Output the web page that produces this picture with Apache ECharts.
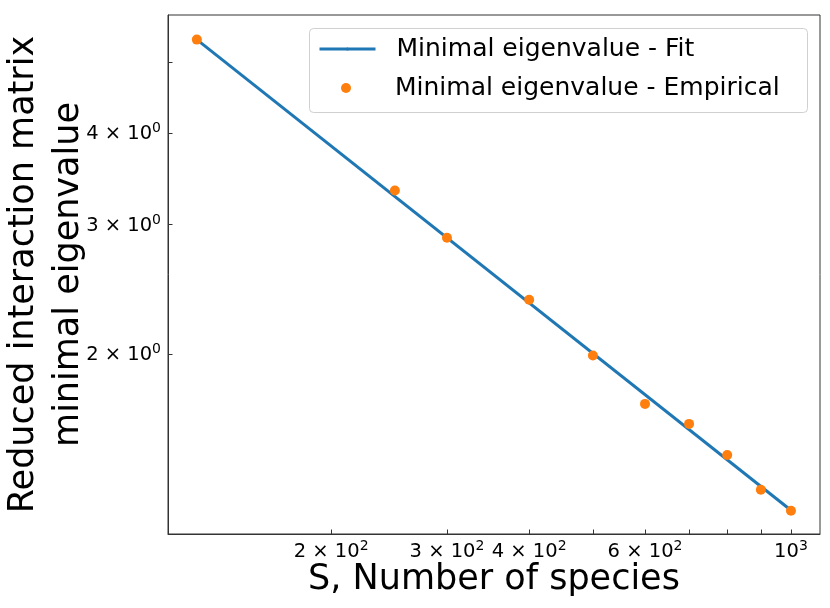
<!DOCTYPE html>
<html>
<head>
<meta charset="utf-8">
<script src="https://cdn.jsdelivr.net/npm/echarts@6/dist/echarts.min.js"></script>
<style>html,body{margin:0;padding:0;background:#fff;}#c{width:830px;height:608px;}</style>
</head>
<body>
<div id="c"></div>
<script>
// ---- data ----
const speciesCounts = [125, 250, 300, 400, 500, 600, 700, 800, 900, 1000];
const empiricalEigen = [5.36, 3.34, 2.88, 2.37, 1.99, 1.71, 1.606, 1.457, 1.306, 1.223];
const fitS = [125, 1000];
const fitEigen = [5.36, 1.225];
const xTickValues = [200, 300, 400, 500, 600, 700, 800, 900, 1000];
const xLabelValues = [200, 300, 400, 600, 1000];
const yTickValues = [2, 3, 4, 5];
const yLabelValues = [2, 3, 4];
const seriesNames = ['Minimal eigenvalue - Fit', 'Minimal eigenvalue - Empirical'];
const xTitle = 'S, Number of species';
const yTitle = 'Reduced interaction matrix\nminimal eigenvalue';

const FONT = 'DejaVu Sans';
const chart = echarts.init(document.getElementById('c'), null, {renderer: 'canvas'});

const richTick = {
  m: {fontSize: 19.5, fontFamily: FONT, color: '#000', verticalAlign: 'bottom', lineHeight: 23},
  s: {fontSize: 14, fontFamily: FONT, color: '#000', verticalAlign: 'top', lineHeight: 14}
};

function xFmt(v) {
  if (Math.abs(v - 1000) < 1e-6) return '{m|10}{s|3}';
  return '{m|' + Math.round(v / 100) + ' × 10}{s|2}';
}
function yFmt(v) {
  return '{m|' + Math.round(v) + ' × 10}{s|0}';
}
const legendText = {fontSize: 25, fontFamily: FONT, color: '#000', lineHeight: 30};

const option = {
  animation: false,
  backgroundColor: '#fff',
  grid: {left: 168, top: 15, right: 10, bottom: 74, containLabel: false, outerBoundsMode: 'none',
         show: true, borderColor: '#333', borderWidth: 1, backgroundColor: 'transparent'},
  xAxis: {
    type: 'log', logBase: 10, min: 113, max: 1107,
    name: xTitle, nameLocation: 'middle', nameGap: 25, nameMoveOverlap: false,
    nameTextStyle: {fontSize: 35, fontFamily: FONT, color: '#000', lineHeight: 42},
    axisLine: {show: true, lineStyle: {color: '#333', width: 1}},
    axisTick: {show: true, inside: true, length: 4.5, lineStyle: {color: '#333'}, customValues: xTickValues},
    axisLabel: {show: true, margin: 5, customValues: xLabelValues, formatter: xFmt, rich: richTick},
    splitLine: {show: false}, minorTick: {show: false}, minorSplitLine: {show: false}
  },
  yAxis: {
    type: 'log', logBase: 10, min: 1.137, max: 5.79,
    name: yTitle, nameLocation: 'middle', nameGap: 77, nameRotate: 90, nameMoveOverlap: false,
    nameTextStyle: {fontSize: 35, fontFamily: FONT, color: '#000', lineHeight: 45, align: 'center'},
    axisLine: {show: true, lineStyle: {color: '#333', width: 1}},
    axisTick: {show: true, inside: true, length: 4.5, lineStyle: {color: '#333'}, customValues: yTickValues},
    axisLabel: {show: true, margin: 7, customValues: yLabelValues, formatter: yFmt, rich: richTick},
    splitLine: {show: false}, minorTick: {show: false}, minorSplitLine: {show: false}
  },
  graphic: [{
    type: 'rect', z: 50,
    shape: {x: 309.5, y: 28.5, width: 498, height: 84, r: 4},
    style: {fill: 'rgba(255,255,255,0.8)', stroke: '#d0d0d0', lineWidth: 1}
  }],
  legend: [{
    data: [{name: seriesNames[0], textStyle: Object.assign({padding: [0, 0, 0, 16]}, legendText)}],
    left: 318, top: 34, orient: 'vertical', padding: 0, z: 60,
    itemWidth: 56, itemHeight: 4,
    lineStyle: {width: 3, color: '#1f77b4'},
    textStyle: Object.assign({padding: [0, 0, 0, 16]}, legendText)
  }, {
    data: [{name: seriesNames[1], icon: 'circle', textStyle: Object.assign({padding: [0, 0, 0, 39]}, legendText)}],
    left: 341, top: 73, orient: 'vertical', padding: 0, z: 60,
    itemWidth: 10, itemHeight: 10,
    textStyle: Object.assign({padding: [0, 0, 0, 39]}, legendText)
  }],
  series: [{
    name: seriesNames[0], type: 'line', symbol: 'none', z: 2,
    data: fitS.map((s, i) => [s, fitEigen[i]]),
    lineStyle: {color: '#1f77b4', width: 3}, itemStyle: {color: '#1f77b4'}
  }, {
    name: seriesNames[1], type: 'scatter', symbol: 'circle', symbolSize: 10, z: 3,
    data: speciesCounts.map((s, i) => [s, empiricalEigen[i]]),
    itemStyle: {color: '#ff7f0e', opacity: 1}
  }]
};
chart.setOption(option);
</script>
</body>
</html>
